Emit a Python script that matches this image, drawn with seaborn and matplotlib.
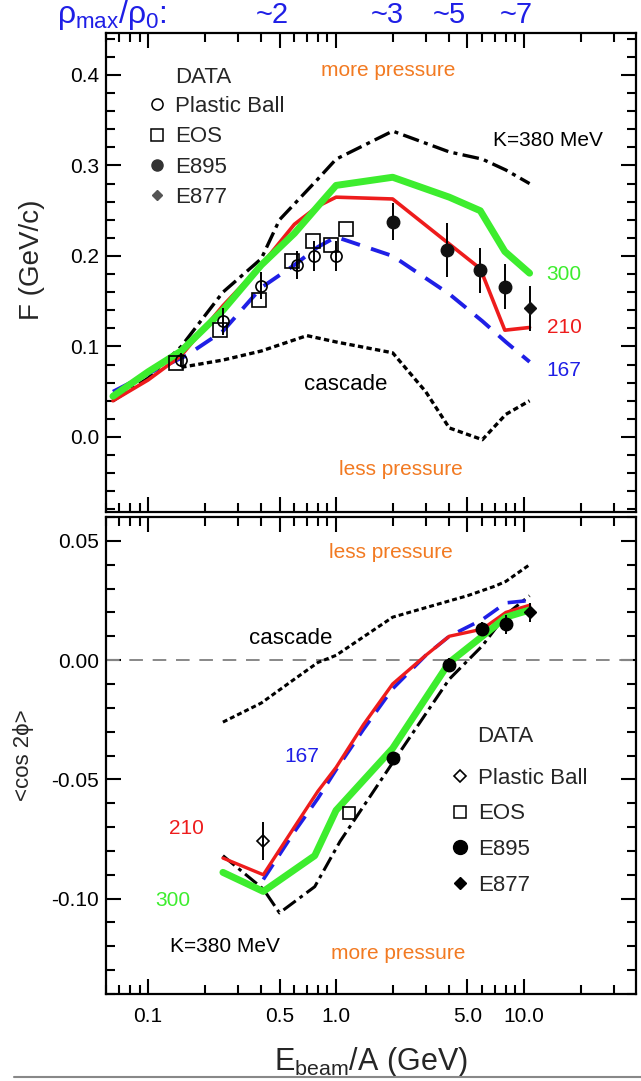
import matplotlib
matplotlib.use("Agg")
import matplotlib.pyplot as plt
import matplotlib.ticker as mticker
from matplotlib.lines import Line2D
import seaborn as sns

sns.set_theme(style="ticks")
plt.rcParams['font.family'] = ['Liberation Sans', 'DejaVu Sans']
plt.rcParams['mathtext.fontset'] = 'custom'
plt.rcParams['mathtext.rm'] = 'Liberation Sans'
plt.rcParams['mathtext.it'] = 'Liberation Sans'

GREEN = '#3ded2e'
RED = '#ee1c1c'
BLUE = '#1f1fe6'
ORANGE = '#f27a22'

# ---- top panel: flow F (GeV/c) ----
f_e300 = [0.065, 0.1, 0.15, 0.25, 0.4, 0.6, 0.8, 1.0, 2.0, 4.0, 5.85, 7.9, 10.7]
f_300 = [0.045, 0.072, 0.095, 0.14, 0.19, 0.225, 0.255, 0.278, 0.287, 0.265, 0.25, 0.205, 0.181]
f_e210 = [0.065, 0.1, 0.15, 0.25, 0.4, 0.6, 0.8, 1.0, 2.0, 5.85, 7.9, 10.7]
f_210 = [0.04, 0.063, 0.09, 0.145, 0.19, 0.235, 0.255, 0.265, 0.263, 0.186, 0.118, 0.121]
f_e167 = [0.065, 0.1, 0.16, 0.25, 0.4, 0.6, 0.8, 1.0, 2.0, 4.0, 6.0, 8.0, 10.7]
f_167 = [0.05, 0.07, 0.09, 0.117, 0.165, 0.19, 0.21, 0.221, 0.20, 0.158, 0.128, 0.105, 0.083]
f_e380 = [0.065, 0.1, 0.15, 0.25, 0.4, 0.5, 0.8, 1.0, 2.0, 4.0, 6.0, 8.0, 10.7]
f_380 = [0.04, 0.065, 0.10, 0.16, 0.197, 0.24, 0.285, 0.307, 0.338, 0.315, 0.307, 0.295, 0.28]
f_ecas = [0.15, 0.25, 0.4, 0.7, 1.0, 2.0, 3.0, 4.0, 6.0, 8.0, 10.7]
f_cas = [0.077, 0.085, 0.095, 0.112, 0.105, 0.093, 0.05, 0.01, -0.003, 0.025, 0.04]

f_pb_e = [0.15, 0.25, 0.4, 0.62, 0.76, 1.0]
f_pb = [0.085, 0.128, 0.167, 0.19, 0.2, 0.2]
f_pb_err = [0.008, 0.015, 0.015, 0.015, 0.017, 0.017]
f_eos_e = [0.14, 0.24, 0.39, 0.58, 0.75, 0.94, 1.13]
f_eos = [0.082, 0.118, 0.151, 0.195, 0.217, 0.212, 0.23]
f_e895_e = [2.0, 3.9, 5.85, 7.9]
f_e895 = [0.238, 0.207, 0.184, 0.166]
f_e895_err = [0.02, 0.03, 0.025, 0.025]
f_e877_e = [10.7]
f_e877 = [0.142]
f_e877_err = [0.025]

# ---- bottom panel: elliptic flow <cos 2phi> ----
v_e300 = [0.25, 0.41, 0.77, 1.0, 2.0, 4.0, 6.0, 8.0, 10.7]
v_300 = [-0.089, -0.097, -0.082, -0.063, -0.037, -0.001, 0.010, 0.018, 0.021]
v_e210 = [0.25, 0.41, 0.6, 0.8, 1.0, 1.4, 2.0, 3.0, 4.0, 6.0, 8.0, 10.7]
v_210 = [-0.083, -0.09, -0.070, -0.055, -0.045, -0.027, -0.010, 0.002, 0.010, 0.013, 0.020, 0.023]
v_e167 = [0.41, 0.6, 0.8, 1.0, 1.4, 2.0, 3.0, 4.0, 6.0, 8.0, 10.7]
v_167 = [-0.092, -0.072, -0.058, -0.046, -0.029, -0.012, 0.002, 0.010, 0.017, 0.024, 0.025]
v_e380 = [0.25, 0.41, 0.5, 0.77, 1.05, 2.0, 4.0, 6.0, 8.0, 10.7]
v_380 = [-0.082, -0.096, -0.106, -0.095, -0.076, -0.043, -0.008, 0.006, 0.019, 0.027]
v_ecas = [0.25, 0.4, 0.6, 0.8, 1.0, 2.0, 3.0, 5.0, 7.0, 8.0, 10.7]
v_cas = [-0.026, -0.018, -0.008, -0.001, 0.002, 0.018, 0.022, 0.027, 0.031, 0.033, 0.040]

v_pb_e = [0.41]
v_pb = [-0.076]
v_pb_err = [0.008]
v_eos_e = [1.17]
v_eos = [-0.064]
v_e895_e = [2.0, 4.0, 6.0, 8.0]
v_e895 = [-0.041, -0.002, 0.013, 0.015]
v_e895_err = [0.002, 0.003, 0.003, 0.004]
v_e877_e = [10.7]
v_e877 = [0.020]
v_e877_err = [0.004]

x_ticks = [0.1, 0.5, 1.0, 5.0, 10.0]
x_ticklabels = ['0.1', '0.5', '1.0', '5.0', '10.0']
rho_pos = [0.457, 1.87, 3.99, 9.06]
rho_labels = ['~2', '~3', '~5', '~7']
data_labels = ['Plastic Ball', 'EOS', 'E895', 'E877']

fig = plt.figure(figsize=(6.41, 10.81), dpi=100)
W, H = 641, 1081
ax1 = fig.add_axes([106 / W, 1 - 512 / H, 530 / W, 479 / H])
ax2 = fig.add_axes([106 / W, 1 - 994 / H, 530 / W, 477 / H])


def curve(ax, x, y, color, lw, dashes=None):
    ls = '-' if dashes is None else (0, dashes)
    sns.lineplot(x=x, y=y, ax=ax, color=color, lw=lw, linestyle=ls,
                 sort=False, estimator=None)


def style_axis(ax, ymaj, ymin):
    ax.set_xscale('log')
    ax.set_xlim(0.0597, 39.4)
    ax.xaxis.set_major_locator(mticker.FixedLocator(x_ticks))
    ax.xaxis.set_minor_locator(mticker.LogLocator(base=10, subs=[2, 3, 4, 6, 7, 8, 9]))
    ax.xaxis.set_minor_formatter(mticker.NullFormatter())
    ax.yaxis.set_major_locator(mticker.MultipleLocator(ymaj))
    ax.yaxis.set_minor_locator(mticker.MultipleLocator(ymin))
    ax.tick_params(which='both', direction='in', top=True, right=True,
                   width=1.5, colors='black', labelsize=15)
    ax.tick_params(which='major', length=11)
    ax.tick_params(which='minor', length=6.5)
    ax.tick_params(axis='y', pad=5)
    for s in ax.spines.values():
        s.set_linewidth(1.6)
        s.set_color('black')


# top panel
curve(ax1, f_ecas, f_cas, 'black', 2.4, (1.6, 1.0))
curve(ax1, f_e380, f_380, 'black', 2.4, (5, 1.6, 1.2, 1.6))
curve(ax1, f_e167, f_167, BLUE, 2.8, (5, 3))
curve(ax1, f_e210, f_210, RED, 2.6)
curve(ax1, f_e300, f_300, GREEN, 5.0)

ax1.errorbar(f_pb_e, f_pb, yerr=f_pb_err, fmt='o', mfc='none', mec='black',
             ms=8, mew=1.2, ecolor='black', elinewidth=1.4, capsize=0)
ax1.plot(f_eos_e, f_eos, 's', mfc='none', mec='black', ms=10, mew=1.2)
ax1.errorbar(f_e895_e, f_e895, yerr=f_e895_err, fmt='o', color='#111111',
             ms=9, ecolor='black', elinewidth=1.4, capsize=0)
ax1.errorbar(f_e877_e, f_e877, yerr=f_e877_err, fmt='D', color='#111111',
             ms=6, ecolor='black', elinewidth=1.4, capsize=0)

style_axis(ax1, 0.1, 0.02)
ax1.set_ylim(-0.0829, 0.4464)
ax1.yaxis.set_major_formatter(mticker.FormatStrFormatter('%.1f'))
ax1.tick_params(axis='x', labelbottom=False)
ax1.set_ylabel('F (GeV/c)', fontsize=20)
ax1.yaxis.set_label_coords(-0.115, 0.526)

h1 = [Line2D([], [], ls='none', marker='o', mfc='none', mec='black', ms=8, mew=1.1),
      Line2D([], [], ls='none', marker='s', mfc='none', mec='black', ms=9, mew=1.1),
      Line2D([], [], ls='none', marker='o', color='#333333', ms=8),
      Line2D([], [], ls='none', marker='D', color='#555555', ms=5)]
ax1.legend(h1, data_labels, loc='upper left', bbox_to_anchor=(0.063, 0.887),
           frameon=False, fontsize=16, handlelength=0.8, handletextpad=0.4,
           labelspacing=0.42, borderaxespad=0.0)
ax1.text(0.130, 0.908, 'DATA', transform=ax1.transAxes, fontsize=16,
         ha='left', va='center')

ax1.text(1.9, 0.405, 'more pressure', color=ORANGE, fontsize=15, ha='center', va='center')
ax1.text(2.2, -0.036, 'less pressure', color=ORANGE, fontsize=15, ha='center', va='center')
ax1.text(6.84, 0.328, 'K=380 MeV', color='black', fontsize=15, ha='left', va='center')
ax1.text(13.2, 0.180, '300', color=GREEN, fontsize=15, ha='left', va='center')
ax1.text(13.2, 0.121, '210', color=RED, fontsize=15, ha='left', va='center')
ax1.text(13.2, 0.074, '167', color=BLUE, fontsize=15, ha='left', va='center')
ax1.text(1.13, 0.058, 'cascade', color='black', fontsize=16, ha='center', va='center')

for xp, lab in zip(rho_pos, rho_labels):
    ax1.text(xp, 1 + 18 / 479, lab, transform=ax1.get_xaxis_transform(), color=BLUE,
             fontsize=21, ha='center', va='center')
fig.text(57 / W, 1 - 15 / H, r'$\rho_{\mathrm{max}}/\rho_0$:', color=BLUE,
         fontsize=23, ha='left', va='center')

# bottom panel
ax2.axhline(0.0, color='#888888', lw=1.4, ls=(0, (7, 5)))
curve(ax2, v_ecas, v_cas, 'black', 2.2, (1.6, 1.0))
curve(ax2, v_e380, v_380, 'black', 2.2, (5, 1.6, 1.2, 1.6))
curve(ax2, v_e167, v_167, BLUE, 2.6, (5, 3))
curve(ax2, v_e210, v_210, RED, 2.4)
curve(ax2, v_e300, v_300, GREEN, 5.0)

ax2.errorbar(v_pb_e, v_pb, yerr=v_pb_err, fmt='D', mfc='none', mec='black',
             ms=6, mew=1.2, ecolor='black', elinewidth=1.4, capsize=0)
ax2.plot(v_eos_e, v_eos, 's', mfc='none', mec='black', ms=9, mew=1.2)
ax2.errorbar(v_e895_e, v_e895, yerr=v_e895_err, fmt='o', color='black',
             ms=9, ecolor='black', elinewidth=1.4, capsize=0)
ax2.errorbar(v_e877_e, v_e877, yerr=v_e877_err, fmt='D', color='black',
             ms=6, ecolor='black', elinewidth=1.4, capsize=0)

style_axis(ax2, 0.05, 0.01)
ax2.set_ylim(-0.14, 0.06)
ax2.yaxis.set_major_formatter(mticker.FuncFormatter(lambda v, p: '%.2f' % v))
ax2.set_xticklabels(x_ticklabels)
ax2.tick_params(axis='x', pad=9)
ax2.set_ylabel('<cos 2\u03d5>', fontsize=16)
ax2.yaxis.set_label_coords(-0.136, 0.5)
ax2.set_xlabel(r'E$_{\mathrm{beam}}$/A (GeV)', fontsize=22)
ax2.xaxis.set_label_coords(0.5, -0.107)

h2 = [Line2D([], [], ls='none', marker='D', mfc='none', mec='black', ms=6, mew=1.2),
      Line2D([], [], ls='none', marker='s', mfc='none', mec='black', ms=8, mew=1.1),
      Line2D([], [], ls='none', marker='o', color='black', ms=10),
      Line2D([], [], ls='none', marker='D', color='black', ms=6)]
ax2.legend(h2, data_labels, loc='upper left', bbox_to_anchor=(0.635, 0.493),
           frameon=False, fontsize=16, handlelength=0.8, handletextpad=0.4,
           labelspacing=0.66, borderaxespad=0.0)
ax2.text(0.70, 0.54, 'DATA', transform=ax2.transAxes, fontsize=16,
         ha='left', va='center')

ax2.text(1.96, 0.045, 'less pressure', color=ORANGE, fontsize=15, ha='center', va='center')
ax2.text(2.14, -0.123, 'more pressure', color=ORANGE, fontsize=15, ha='center', va='center')
ax2.text(0.257, -0.120, 'K=380 MeV', color='black', fontsize=15, ha='center', va='center')
ax2.text(0.57, 0.0092, 'cascade', color='black', fontsize=16, ha='center', va='center')
ax2.text(0.66, -0.0403, '167', color=BLUE, fontsize=15, ha='center', va='center')
ax2.text(0.16, -0.0705, '210', color=RED, fontsize=15, ha='center', va='center')
ax2.text(0.136, -0.101, '300', color=GREEN, fontsize=15, ha='center', va='center')

fig.add_artist(Line2D([14 / W, 1], [1 - 1077 / H, 1 - 1077 / H], color='#888888', lw=1.5))

fig.savefig('out.png', dpi=100)
